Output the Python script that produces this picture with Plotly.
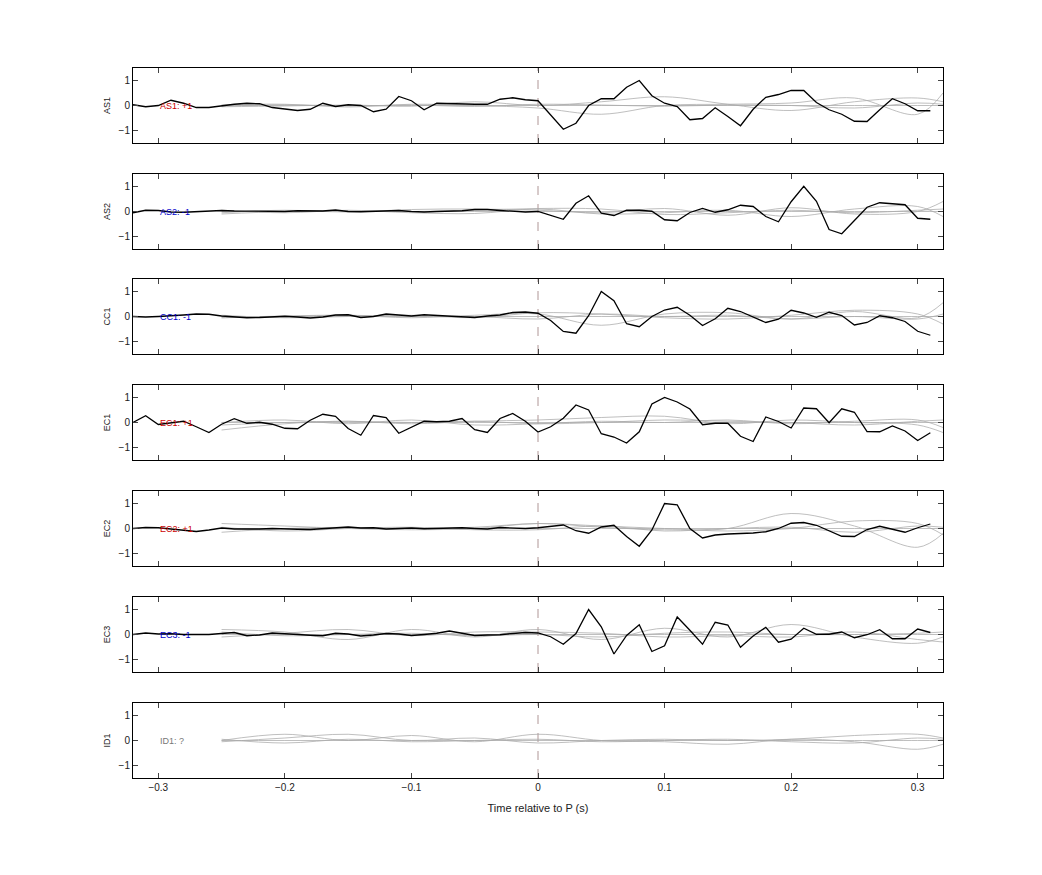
import plotly.graph_objects as go

W, H = 1042, 875

stations = ["AS1", "AS2", "CC1", "EC1", "EC2", "EC3", "ID1"]
polarity = ["+1", "-1", "-1", "+1", "+1", "-1", "?"]
label_colors = ["#cc0000", "#0000cc", "#0000cc", "#cc0000", "#cc0000", "#0000cc", "#777777"]

t_obs = [round(-0.32 + 0.01 * i, 2) for i in range(64)]

obs = {
    "AS1": [0.03, -0.05, 0.0, 0.21, 0.09, -0.08, -0.08, 0.0, 0.05, 0.09, 0.07, -0.08, -0.15, -0.2, -0.15, 0.09,
            -0.04, 0.03, 0.0, -0.25, -0.15, 0.36, 0.19, -0.17, 0.09, 0.07, 0.04, 0.05, 0.05, 0.25, 0.31, 0.23,
            0.19, -0.39, -0.95, -0.71, 0.0, 0.27, 0.27, 0.73, 1.0, 0.39, 0.09, -0.04, -0.57, -0.52, -0.09, -0.44,
            -0.81, -0.15, 0.33, 0.44, 0.6, 0.6, 0.12, -0.17, -0.35, -0.63, -0.64, -0.17, 0.27, 0.07, -0.21, -0.21],
    "AS2": [-0.05, 0.05, 0.04, -0.02, -0.03, 0.0, 0.02, 0.04, 0.02, 0.01, 0.0, -0.02, 0.0, 0.03, 0.01, 0.02,
            0.06, 0.0, -0.01, 0.0, 0.02, 0.04, 0.0, -0.02, 0.0, 0.01, 0.03, 0.08, 0.08, 0.04, 0.0, -0.02,
            0.0, -0.15, -0.31, 0.33, 0.63, -0.07, -0.16, 0.05, 0.05, 0.01, -0.33, -0.37, -0.04, 0.12, -0.03, 0.07,
            0.25, 0.2, -0.2, -0.41, 0.39, 1.01, 0.41, -0.72, -0.89, -0.36, 0.17, 0.35, 0.32, 0.27, -0.27, -0.31],
    "CC1": [0.0, -0.02, 0.0, 0.02, 0.06, 0.1, 0.09, 0.02, -0.02, -0.05, -0.04, -0.02, 0.01, -0.02, -0.06, -0.02,
            0.06, 0.07, -0.04, 0.0, 0.1, 0.06, 0.02, 0.07, 0.04, 0.0, -0.02, -0.04, 0.02, 0.06, 0.16, 0.18,
            0.13, -0.16, -0.6, -0.67, 0.03, 1.0, 0.63, -0.29, -0.41, 0.0, 0.26, 0.37, 0.05, -0.36, -0.09, 0.33,
            0.2, -0.01, -0.24, -0.11, 0.25, 0.14, -0.03, 0.17, 0.04, -0.34, -0.24, 0.03, -0.05, -0.2, -0.59, -0.75],
    "EC1": [0.0, 0.27, -0.08, 0.0, 0.05, -0.17, -0.4, -0.07, 0.15, -0.03, 0.01, -0.07, -0.23, -0.25, 0.09, 0.33,
            0.25, -0.24, -0.51, 0.28, 0.2, -0.43, -0.19, 0.05, 0.03, 0.05, 0.16, -0.29, -0.4, 0.16, 0.36, 0.05,
            -0.38, -0.17, 0.17, 0.7, 0.5, -0.45, -0.58, -0.82, -0.37, 0.74, 1.0, 0.82, 0.54, -0.09, -0.03, -0.03,
            -0.55, -0.76, 0.22, 0.04, -0.22, 0.58, 0.55, -0.01, 0.55, 0.41, -0.36, -0.37, -0.14, -0.34, -0.72, -0.41],
    "EC2": [0.0, 0.04, 0.03, -0.02, -0.05, -0.12, -0.06, 0.02, -0.02, -0.03, -0.02, 0.0, 0.0, -0.03, -0.04, 0.0,
            0.04, 0.06, 0.02, 0.03, -0.02, 0.0, 0.02, -0.01, 0.0, 0.0, 0.03, 0.0, -0.02, 0.04, 0.02, 0.0,
            0.03, 0.09, 0.14, -0.09, -0.19, 0.06, 0.13, -0.32, -0.71, -0.06, 1.0, 0.95, 0.0, -0.38, -0.26, -0.22,
            -0.21, -0.18, -0.13, 0.0, 0.21, 0.24, 0.13, -0.09, -0.31, -0.32, -0.04, 0.09, -0.03, -0.15, 0.03, 0.18],
    "EC3": [0.0, 0.06, 0.02, 0.03, 0.0, 0.0, 0.0, 0.04, 0.08, -0.05, -0.02, 0.06, 0.02, 0.0, -0.03, -0.05,
            0.05, 0.02, -0.06, -0.02, 0.04, 0.02, -0.04, 0.0, 0.05, 0.14, 0.05, -0.04, -0.02, -0.01, 0.04, 0.08,
            0.06, -0.09, -0.39, 0.04, 1.0, 0.31, -0.78, -0.04, 0.39, -0.68, -0.45, 0.7, 0.17, -0.39, 0.49, 0.38,
            -0.51, -0.06, 0.29, -0.31, -0.19, 0.25, 0.01, 0.01, 0.1, -0.13, -0.01, 0.19, -0.17, -0.17, 0.22, 0.08],
}

t_syn = [-0.25, -0.2, -0.15, -0.1, -0.05, 0.0, 0.05, 0.1, 0.15, 0.2, 0.25, 0.3, 0.32]

syn = {
    "AS1": [[0.0, 0.0, 0.0, 0.0, 0.0, 0.0, 0.0, 0.0, 0.0, 0.0, 0.0, 0.0, 0.0],
            [-0.05, -0.02, 0.02, -0.03, 0.15, 0.0, 0.15, 0.35, 0.05, -0.2, 0.15, 0.3, 0.15],
            [0.03, 0.05, -0.06, 0.05, 0.0, -0.1, -0.35, 0.0, 0.05, 0.1, 0.3, -0.35, 0.5],
            [-0.03, 0.03, -0.02, 0.02, -0.04, 0.05, 0.02, -0.03, 0.02, 0.0, -0.1, 0.1, 0.05]],
    "AS2": [[0.0, 0.0, 0.0, 0.0, 0.0, 0.0, 0.0, 0.0, 0.0, 0.0, 0.0, 0.0, 0.0],
            [-0.05, 0.05, -0.02, 0.08, 0.1, 0.05, -0.05, 0.12, -0.15, 0.15, -0.1, 0.0, 0.4],
            [0.05, -0.05, 0.05, -0.05, -0.08, 0.1, -0.1, -0.05, 0.05, -0.2, 0.1, 0.2, -0.2],
            [-0.1, 0.0, 0.03, 0.0, 0.05, 0.12, 0.1, -0.12, -0.05, 0.05, -0.05, 0.05, 0.1]],
    "CC1": [[0.0, 0.0, 0.0, 0.0, 0.0, 0.0, 0.0, 0.0, 0.0, 0.0, 0.0, 0.0, 0.0],
            [-0.05, 0.02, 0.05, -0.05, 0.05, 0.1, -0.35, 0.1, 0.15, -0.1, 0.2, -0.05, 0.55],
            [0.05, -0.05, 0.0, 0.05, -0.05, 0.15, 0.1, -0.05, -0.1, 0.05, 0.25, 0.1, -0.3],
            [-0.05, 0.0, 0.05, 0.0, 0.0, -0.1, 0.1, 0.0, 0.05, -0.1, 0.0, -0.1, 0.1]],
    "EC1": [[0.0, 0.0, 0.0, 0.0, 0.0, 0.0, 0.0, 0.0, 0.0, 0.0, 0.0, 0.0, 0.0],
            [-0.3, -0.05, 0.05, -0.05, 0.05, 0.1, 0.2, 0.25, -0.05, 0.1, 0.0, -0.1, -0.4],
            [0.0, 0.1, -0.05, 0.1, -0.1, -0.05, 0.05, 0.0, 0.1, -0.05, 0.05, 0.1, -0.2],
            [-0.1, 0.0, 0.05, 0.0, 0.05, -0.05, 0.0, 0.1, 0.05, 0.0, -0.1, 0.05, 0.1]],
    "EC2": [[0.0, 0.0, 0.0, 0.0, 0.0, 0.0, 0.0, 0.0, 0.0, 0.0, 0.0, 0.0, 0.0],
            [0.2, 0.1, 0.0, -0.05, 0.0, 0.2, 0.05, -0.05, 0.0, 0.6, 0.1, -0.75, -0.2],
            [-0.15, 0.0, 0.05, 0.0, 0.05, 0.2, 0.1, 0.0, -0.1, 0.0, 0.3, 0.2, -0.25],
            [0.05, -0.1, 0.0, 0.05, -0.05, -0.05, 0.1, -0.1, 0.0, 0.05, -0.15, 0.1, 0.05]],
    "EC3": [[0.0, 0.0, 0.0, 0.0, 0.0, 0.0, 0.0, 0.0, 0.0, 0.0, 0.0, 0.0, 0.0],
            [0.2, 0.1, -0.2, 0.2, -0.1, 0.2, -0.2, 0.25, -0.1, 0.4, -0.1, -0.35, -0.1],
            [-0.1, 0.05, 0.2, -0.05, 0.1, 0.1, 0.05, -0.1, -0.05, -0.1, 0.1, -0.2, -0.3],
            [0.1, -0.05, 0.0, 0.05, -0.05, 0.0, -0.1, 0.05, 0.1, 0.0, 0.0, 0.05, 0.1]],
    "ID1": [[0.0, 0.0, 0.0, 0.0, 0.0, 0.0, 0.0, 0.0, 0.0, 0.0, 0.0, 0.0, 0.0],
            [0.0, 0.25, 0.0, 0.2, -0.05, 0.25, 0.0, -0.05, -0.15, 0.05, -0.05, -0.35, -0.15],
            [-0.05, 0.1, 0.25, 0.0, 0.1, -0.1, 0.0, 0.05, 0.0, 0.05, 0.2, 0.25, 0.1],
            [0.05, -0.1, 0.05, -0.05, 0.0, 0.05, -0.05, 0.0, 0.05, -0.05, -0.1, 0.1, 0.05]],
}

y_ticks = [-1, 0, 1]
x_ticks = [-0.3, -0.2, -0.1, 0, 0.1, 0.2, 0.3]

panel_tops = [60, 166, 271, 377, 483, 589, 695]
panel_h = 75
x0p, x1p = 125, 935

fig = go.Figure()
layout = dict(
    width=W, height=H, margin=dict(l=0, r=0, t=0, b=0),
    plot_bgcolor="white", paper_bgcolor="white", showlegend=False,
    font=dict(family="Liberation Sans, Arial", size=10, color="#222"),
)
shapes = []
annotations = []
for i, st in enumerate(stations):
    n = i + 1
    xa = "x" if n == 1 else f"x{n}"
    ya = "y" if n == 1 else f"y{n}"
    for curve in syn[st]:
        fig.add_trace(go.Scatter(x=t_syn, y=curve, mode="lines", xaxis=xa, yaxis=ya,
                                 line=dict(color="rgba(170,170,170,0.75)", width=1, shape="spline", smoothing=1.0),
                                 hoverinfo="skip"))
    if st in obs:
        fig.add_trace(go.Scatter(x=t_obs, y=obs[st], mode="lines", xaxis=xa, yaxis=ya,
                                 line=dict(color="black", width=1.3)))
    top = panel_tops[i]
    dom_y = [(H - top - panel_h) / H, (H - top) / H]
    xkey = "xaxis" if n == 1 else f"xaxis{n}"
    ykey = "yaxis" if n == 1 else f"yaxis{n}"
    layout[xkey] = dict(domain=[x0p / W, x1p / W], range=[-0.32, 0.32], anchor=ya,
                        tickvals=x_ticks, ticks="inside", ticklen=5, mirror="ticks",
                        showline=True, linecolor="black", linewidth=1, showgrid=False, zeroline=False,
                        showticklabels=(n == 7), tickfont=dict(size=10))
    layout[ykey] = dict(domain=dom_y, range=[-1.5, 1.5], anchor=xa,
                        tickvals=y_ticks, ticks="inside", ticklen=5, mirror="ticks",
                        showline=True, linecolor="black", linewidth=1, showgrid=False, zeroline=False,
                        title=dict(text=st, font=dict(size=9), standoff=6), tickfont=dict(size=10))
    shapes.append(dict(type="line", xref=xa, yref=f"{ya} domain", x0=0, x1=0, y0=0, y1=1,
                       line=dict(color="rgb(175,150,150)", width=1, dash="dash"), layer="below"))
    annotations.append(dict(x=-0.3, y=0, xref=xa, yref=ya, xanchor="left", yanchor="middle",
                            text=f"{st}: {polarity[i]}", showarrow=False,
                            font=dict(size=9, color=label_colors[i])))

layout["xaxis7"]["title"] = dict(text="Time relative to P (s)", font=dict(size=11), standoff=12)
layout["shapes"] = shapes
layout["annotations"] = annotations
fig.update_layout(**layout)
fig.write_html("out.html")
